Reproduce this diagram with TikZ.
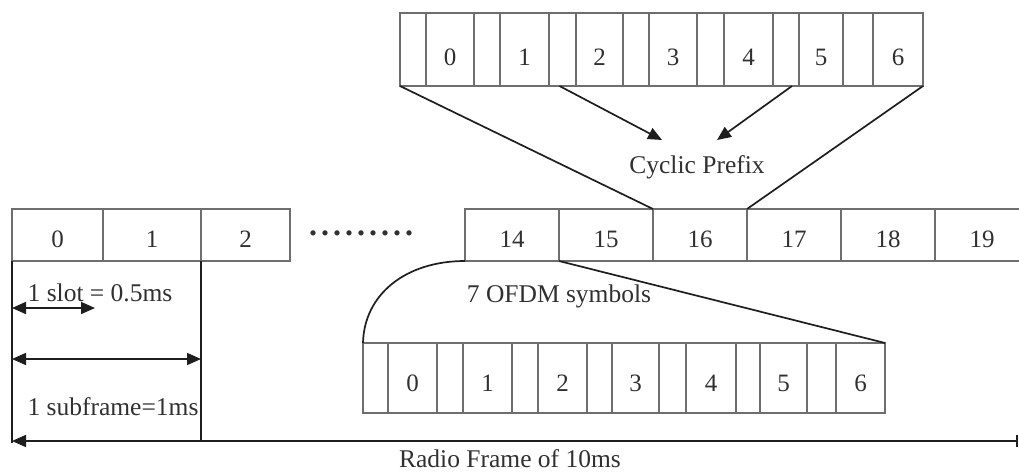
\documentclass[tikz,border=0pt]{standalone}
\usepackage{fontspec}
\setmainfont{Liberation Serif}
\usetikzlibrary{arrows.meta}
\definecolor{boxgray}{HTML}{6E6E6E}
\definecolor{linec}{HTML}{1E1E1E}
\definecolor{txt}{HTML}{303030}
\tikzset{myarr/.tip={Triangle[length=14pt,width=12pt]}}
\begin{document}
\begin{tikzpicture}[x=1pt,y=-1pt,
  cell/.style={draw=boxgray, line width=1.1pt, inner sep=0pt, outer sep=0pt},
  num/.style={font=\fontsize{25}{25}\selectfont, text=txt, inner sep=0pt},
  conn/.style={draw=linec, line width=1.7pt},
  lbl/.style={font=\fontsize{25.5}{26}\selectfont, text=txt, inner sep=0pt}]
\useasboundingbox (0,0) rectangle (1019,472);
\begin{scope}
\clip (0,0) rectangle (1019,472);
% top row of OFDM symbols
\foreach \n/\l/\r in {tc0/400/426, tc1/474/500, tc2/549/576, tc3/623/649, tc4/697/724, tc5/773/799, tc6/843/873}
  \node[cell, minimum width=\r pt-\l pt, minimum height=73pt] (\n) at ({(\l+\r)/2},49.5) {};
\foreach \n/\l/\r/\t in {t0/426/474/0, t1/500/549/1, t2/576/623/2, t3/649/697/3, t4/724/773/4, t5/799/843/5, t6/873/923/6}{
  \node[cell, minimum width=\r pt-\l pt, minimum height=73pt] (\n) at ({(\l+\r)/2},49.5) {};
  \node[num] (\n l) at ({(\l+\r)/2},57) {\t};
}
% middle row: slots of the radio frame
\foreach \n/\l/\r/\t in {m0/12/103/0, m1/103/201/1, m2/201/290/2, m14/465/559/14, m15/559/653/15, m16/653/747/16, m17/747/841/17, m18/841/935/18, m19/935/1029/19}{
  \node[cell, minimum width=\r pt-\l pt, minimum height=52pt] (\n) at ({(\l+\r)/2},235) {};
  \node[num] (\n l) at ({(\l+\r)/2},239) {\t};
}
\node[num, font=\fontsize{32}{32}\selectfont\bfseries] (dots) at (361,233)
  {.\kern4pt.\kern4pt.\kern4pt.\kern4pt.\kern4pt.\kern4pt.\kern4pt.\kern4pt.};
% bottom row of OFDM symbols
\foreach \n/\l/\r in {bc0/363/388, bc1/437/463, bc2/512/538, bc3/587/612, bc4/659/686, bc5/736/760, bc6/807/836}
  \node[cell, minimum width=\r pt-\l pt, minimum height=70pt] (\n) at ({(\l+\r)/2},378) {};
\foreach \n/\l/\r/\t in {b0/388/437/0, b1/463/512/1, b2/538/587/2, b3/612/659/3, b4/686/736/4, b5/760/807/5, b6/836/885/6}{
  \node[cell, minimum width=\r pt-\l pt, minimum height=70pt] (\n) at ({(\l+\r)/2},378) {};
  \node[num] (\n l) at ({(\l+\r)/2},383) {\t};
}
% labels
\node[lbl] (cp) at (697,167) {Cyclic Prefix};
\node[lbl] (ofdm) at (559,296) {7 OFDM symbols};
\node[lbl] (slot) at (100,293) {1 slot = 0.5ms};
\node[lbl] (sub) at (113,407) {1 subframe=1ms};
\node[lbl] (radio) at (510,459) {Radio Frame of 10ms};
% coordinates
\coordinate (cpa) at (662,140);
\coordinate (cpb) at (717,140);
\coordinate (vl) at (12,443);
\coordinate (vr) at (201,441);
\coordinate (s1) at (12,308);
\coordinate (s2) at (95,308);
\coordinate (f1) at (12,359);
\coordinate (f2) at (201,359);
\coordinate (r1) at (12,441);
\coordinate (r2) at (1018,441);
% connectors
\draw[conn] (tc0.south west) -- (m16.north west);
\draw[conn] (t6.south east) -- (m16.north east);
\draw[conn, -{myarr}] ([xshift=-3pt]tc2.south) -- (cpa);
\draw[conn, -{myarr}] ([xshift=6pt]tc5.south) -- (cpb);
\draw[conn] (m14.south west) .. controls (405,261) and (364,295) .. (bc0.north west);
\draw[conn] (m14.south east) -- (b6.north east);
\draw[conn] (m0.south west) -- (vl);
\draw[conn] (m1.south east) -- (vr);
\draw[conn, {myarr}-{myarr}] (s1) -- (s2);
\draw[conn, {myarr}-{myarr}] (f1) -- (f2);
\draw[conn, {myarr}-{Bar[width=12pt]}] (r1) -- (r2);
\end{scope}
\end{tikzpicture}
\end{document}
